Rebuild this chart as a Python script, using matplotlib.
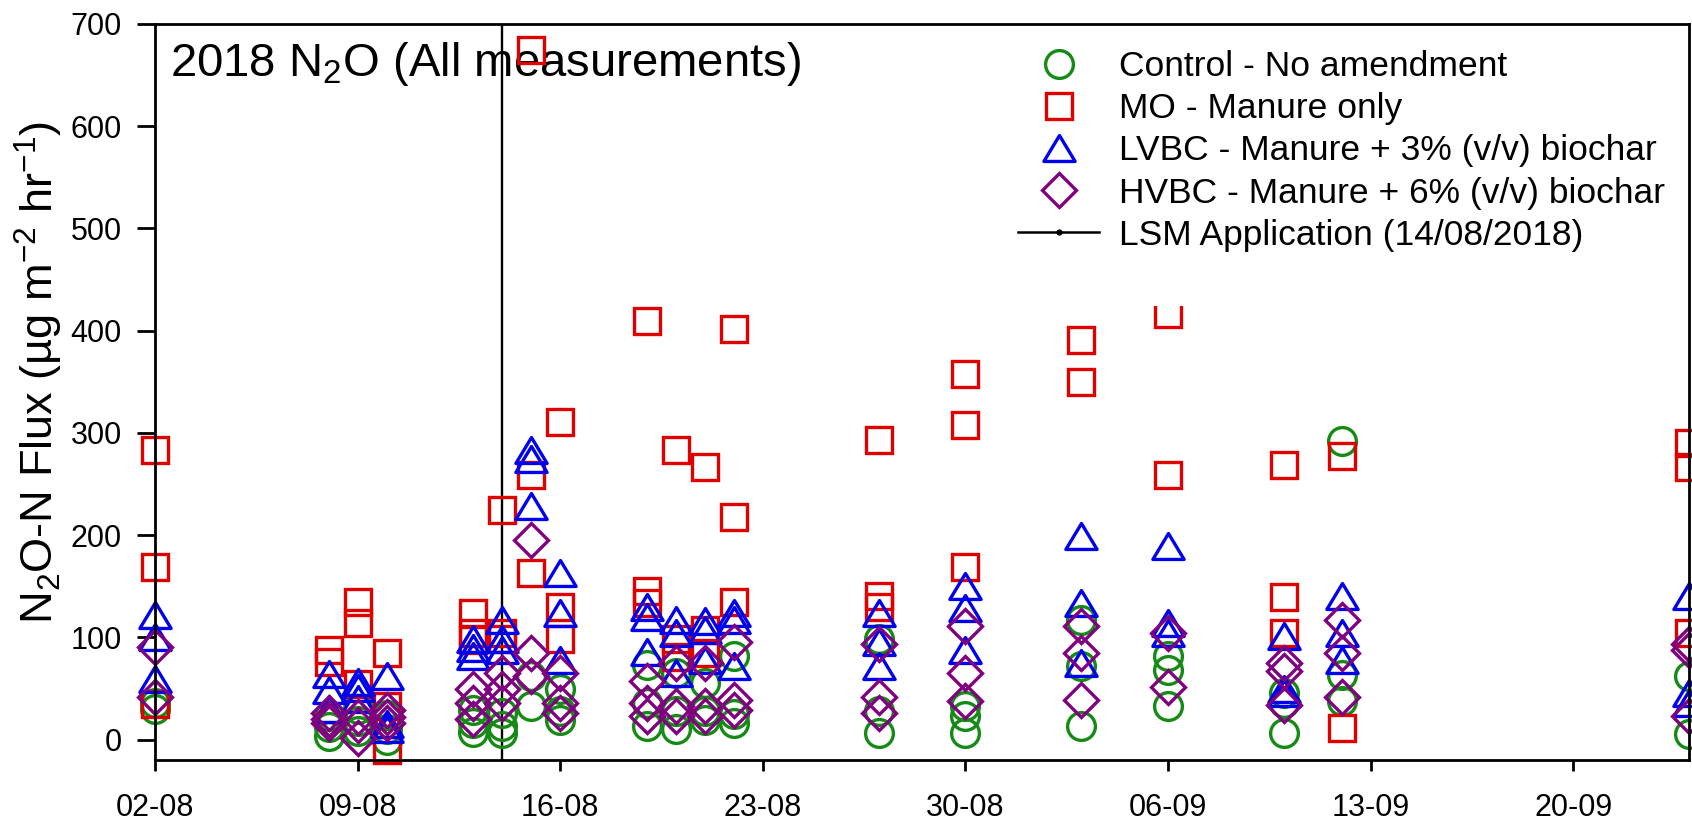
import numpy as np
import matplotlib
matplotlib.use("Agg")
import matplotlib.pyplot as plt
import matplotlib.dates as mdates
from matplotlib.lines import Line2D
from matplotlib.path import Path
from matplotlib.patches import Rectangle

plt.rcParams['font.family'] = ['Liberation Sans', 'DejaVu Sans']
plt.rcParams['mathtext.fontset'] = 'custom'
plt.rcParams['mathtext.rm'] = 'Liberation Sans'
plt.rcParams['mathtext.it'] = 'Liberation Sans:italic'
plt.rcParams['mathtext.bf'] = 'Liberation Sans:bold'
plt.rcParams['mathtext.default'] = 'regular'

# ---------------- data ----------------
sample_dates = ['2018-08-02', '2018-08-08', '2018-08-09', '2018-08-10', '2018-08-13',
                '2018-08-14', '2018-08-15', '2018-08-16', '2018-08-19', '2018-08-20',
                '2018-08-21', '2018-08-22', '2018-08-27', '2018-08-30', '2018-09-03',
                '2018-09-06', '2018-09-10', '2018-09-12', '2018-09-24']

control = [[36, 30], [23, 12, 3], [30, 18, 8], [24, 10, 0], [29, 16, 7],
           [26, 13, 6], [62, 33], [49, 28, 19], [73, 36, 13], [65, 28, 10],
           [55, 28, 19], [82, 25, 16], [98, 28, 6], [33, 23, 6], [117, 72, 13],
           [82, 68, 33], [46, 36, 6], [292, 63, 38], [62, 5]]

manure_only = [[283, 169, 35], [88, 76], [135, 114, 54], [85, 33, -10], [124, 104, 97],
               [225, 104, 98], [675, 259, 163], [311, 130, 98], [409, 145, 134], [283, 98, 81],
               [267, 107, 85], [402, 218, 135], [293, 140, 130], [358, 308, 169], [391, 350],
               [416, 259], [269, 139, 104], [277, 11], [290, 267, 104]]

lvbc = [[122, 100, 59], [64, 48, 30], [56, 50, 40], [62, 15, 10], [98, 90, 82],
        [117, 98, 88], [283, 274, 228], [163, 124, 78], [130, 120, 86], [117, 104, 65],
        [116, 107, 78], [124, 117, 72], [124, 95, 72], [150, 129, 88], [199, 134, 75],
        [189, 114, 104], [101, 49, 46], [140, 104, 78], [140, 46, 36]]

hvbc = [[91, 42], [26, 20, 16], [22, 14, 2], [29, 22, 16], [49, 36, 20],
        [65, 49, 36], [195, 85, 62], [65, 36, 26], [57, 36, 23], [75, 33, 23],
        [75, 33, 23], [95, 39, 29], [93, 42, 26], [111, 65, 38], [111, 85, 39],
        [104, 51], [75, 67, 34], [117, 85, 42], [93, 88, 23]]

series_labels = ['Control - No amendment', 'MO - Manure only',
                 'LVBC - Manure + 3% (v/v) biochar', 'HVBC - Manure + 6% (v/v) biochar']
lsm_date = '2018-08-14'
lsm_label = 'LSM Application (14/08/2018)'
tick_dates = ['2018-08-02', '2018-08-09', '2018-08-16', '2018-08-23',
              '2018-08-30', '2018-09-06', '2018-09-13', '2018-09-20']
x_range = ['2018-08-02', '2018-09-24']
y_ticks = [0, 100, 200, 300, 400, 500, 600, 700]

# ---------------- figure ----------------
W, H = 1692, 823
fig = plt.figure(figsize=(W / 100, H / 100), dpi=100)
ax = fig.add_axes([155 / W, 63 / H, 1534 / W, 736 / H])

tri = Path([(-1, -0.83), (1, -0.83), (0, 0.83), (-1, -0.83)],
           [Path.MOVETO, Path.LINETO, Path.LINETO, Path.CLOSEPOLY])

styles = [
    dict(marker='o', color='#158a15', ms=20),
    dict(marker='s', color='#e00000', ms=18.5),
    dict(marker=tri, color='#0000ee', ms=22.5),
    dict(marker='D', color='#800080', ms=17.5),
]

handles = []
for vals, st, lab in zip([control, manure_only, lvbc, hvbc], styles, series_labels):
    xs, ys = [], []
    for d, reps in zip(sample_dates, vals):
        for v in reps:
            xs.append(np.datetime64(d))
            ys.append(v)
    ln, = ax.plot(np.array(xs, dtype='datetime64[D]'), ys, linestyle='none',
                  marker=st['marker'], ms=st['ms'], mfc='none', mec=st['color'],
                  mew=2.4, clip_on=False, zorder=2, label=lab)
    handles.append(ln)

ax.axvline(np.datetime64(lsm_date), color='black', lw=1.7, zorder=1.5)
handles.append(Line2D([0], [0], color='black', lw=1.8, marker='o', ms=3.5))

ax.set_xlim(np.datetime64(x_range[0]), np.datetime64(x_range[1]))
ax.set_ylim(-20, 700)
ax.set_xticks([np.datetime64(d) for d in tick_dates])
ax.xaxis.set_major_formatter(mdates.DateFormatter('%d-%m'))
ax.set_yticks(y_ticks)

for s in ax.spines.values():
    s.set_linewidth(2.0)
ax.tick_params(axis='y', direction='out', length=13, width=2, pad=11,
               labelsize=22, right=False)
ax.tick_params(axis='x', direction='out', length=8, width=2, pad=16,
               labelsize=22, top=False)

# white box behind legend (hides part of a marker, as in the original)
ax.add_patch(Rectangle((0.556, 0.617), 0.40, 0.37, transform=ax.transAxes,
                       facecolor='white', edgecolor='none', zorder=3))

leg = ax.legend(handles, series_labels + [lsm_label], loc='upper left',
                bbox_to_anchor=(1018 / W, 1 - 50 / H), bbox_transform=fig.transFigure,
                frameon=False, borderpad=0, borderaxespad=0, numpoints=1,
                fontsize=25.5, handlelength=2.3, handletextpad=0.55,
                labelspacing=0.26)
leg.set_zorder(5)

# title inside the axes (drawn below the markers)
ax.text(170 / W, 1 - 76 / H, '2018 N$_2$O (All measurements)', transform=fig.transFigure,
        fontsize=34, ha='left', va='baseline', zorder=1)

fig.text(39 / W, 1 - 372 / H, 'N$_2$O-N Flux (µg m$^{-2}$ hr$^{-1}$)', rotation=90,
         ha='center', va='center', fontsize=32.5)

fig.savefig('out.png', dpi=100)
